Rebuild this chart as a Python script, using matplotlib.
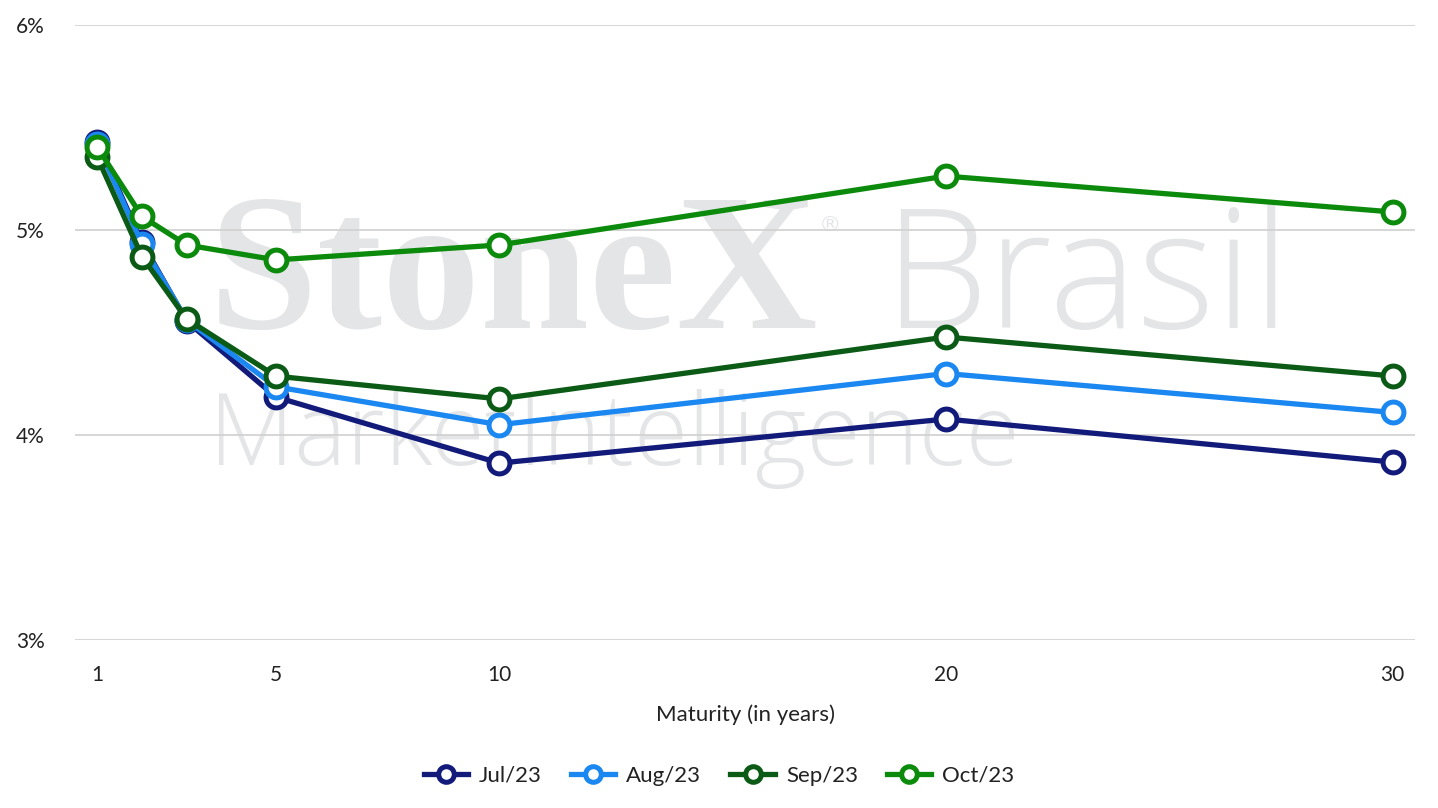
import numpy as np
import matplotlib.pyplot as plt

plt.rcParams['font.family'] = ['Lato', 'DejaVu Sans']

maturity = [1, 2, 3, 5, 10, 20, 30]
jul23 = [5.43, 4.94, 4.555, 4.185, 3.863, 4.078, 3.868]
aug23 = [5.42, 4.93, 4.56, 4.235, 4.05, 4.30, 4.11]
sep23 = [5.355, 4.87, 4.566, 4.287, 4.176, 4.478, 4.288]
oct23 = [5.403, 5.066, 4.927, 4.854, 4.927, 5.263, 5.088]

series = [("Jul/23", jul23, "#121a7a"),
          ("Aug/23", aug23, "#1b87f0"),
          ("Sep/23", sep23, "#0b5a16"),
          ("Oct/23", oct23, "#0b8a0b")]

fig = plt.figure(figsize=(14.38, 8.08), dpi=100)
ax = fig.add_axes([75/1438, 1-640/808, (1415-75)/1438, 615/808])

# watermark
wm = "#e4e5e7"
ax.text(0.1, 0.507, "StoneX", transform=ax.transAxes, fontsize=141, family="Liberation Serif",
        fontweight="bold", color=wm, zorder=0)
ax.text(0.555, 0.665, "®", transform=ax.transAxes, fontsize=16, family="DejaVu Sans",
        color=wm, zorder=0)
ax.text(0.603, 0.507, "Brasil", transform=ax.transAxes, fontsize=120, family="Open Sans",
        fontweight="light", color=wm, zorder=0)
ax.text(0.1, 0.285, "MarketIntelligence", transform=ax.transAxes, fontsize=71,
        family="Open Sans", fontweight="light", color=wm, zorder=0)

for name, vals, col in series:
    ax.plot(maturity, vals, color=col, lw=3.8, marker="o", markersize=15,
            markerfacecolor="white", markeredgecolor=col, markeredgewidth=3.6,
            label=name, zorder=3)

ax.set_xlim(0.5, 30.5)
ax.set_ylim(3, 6)
ax.set_xticks([1, 5, 10, 20, 30])
ax.set_yticks([3, 4, 5, 6])
ax.set_yticklabels(["3%", "4%", "5%", "6%"])
ax.grid(axis="y", color="#d0d0d0", lw=1.2)
ax.set_axisbelow(True)
for s in ax.spines.values():
    s.set_visible(False)
ax.tick_params(length=0, labelsize=15, colors="#222222")
ax.tick_params(axis="y", pad=22)
ax.tick_params(axis="x", pad=18)
ax.set_xlabel("Maturity (in years)", fontsize=16, color="#222222", labelpad=14)

fig.legend(loc="lower center", bbox_to_anchor=(0.5, 0.0), ncol=4, frameon=False,
           fontsize=16, handlelength=2.0, handletextpad=0.5, columnspacing=1.3,
           borderaxespad=0.6, markerscale=0.75, labelcolor="#222222")

fig.savefig("out.png", dpi=100)
